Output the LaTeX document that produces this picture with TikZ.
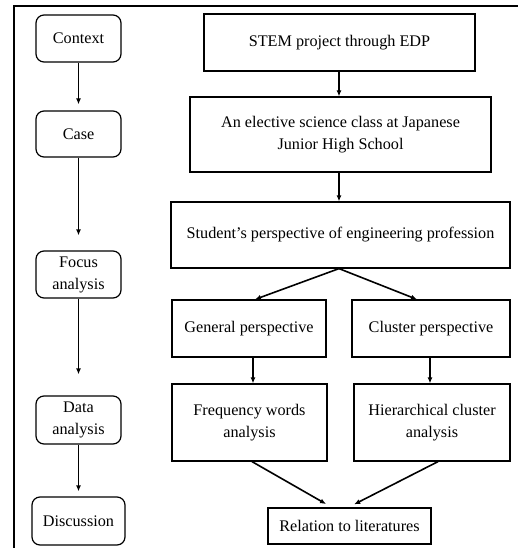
\documentclass[tikz,border=0pt]{standalone}
\usepackage{fontspec}
\setmainfont{Liberation Serif}
\usetikzlibrary{arrows.meta,calc}
\begin{document}
\begin{tikzpicture}[x=1pt,y=-1pt,
  every node/.style={font=\fontsize{16.2}{22}\selectfont, align=center, inner sep=0pt},
  stagebox/.style={draw, line width=1.2pt, rounded corners=8pt, minimum width=85pt, minimum height=47pt},
  flowbox/.style={draw, line width=1.2pt},
  arr/.style={line width=1.6pt, -{Latex[length=6pt,width=5pt]}}
]
\useasboundingbox (0,0) rectangle (518,548);
% frame
\draw[line width=2pt] (14,548) -- (14,6) -- (518,6);
% left column
\node[stagebox] (ctx) at (78.5,38.5) {Context};
\node[stagebox, minimum height=46pt] (case) at (78.5,134) {Case};
\node[stagebox] (focus) at (78.5,274.5) {Focus\\analysis};
\node[stagebox, minimum height=48pt] (data) at (78.5,420) {Data\\analysis};
\node[stagebox, minimum width=93pt, minimum height=48pt] (disc) at (78.5,521) {Discussion};
\draw[arr, shorten >=6pt] (ctx) -- (case);
\draw[arr, shorten >=15pt] (case) -- (focus);
\draw[arr, shorten >=21pt] (focus) -- (data);
\draw[arr, shorten >=5pt] (data) -- (disc);
% right column
\node[flowbox, minimum width=271pt, minimum height=57pt] (stem) at (339.5,42.5) {STEM project through EDP};
\node[flowbox, minimum width=301pt, minimum height=75pt] (elec) at (340.5,134.5) {An elective science class at Japanese\\Junior High School};
\node[flowbox, minimum width=339pt, minimum height=66pt] (stud) at (340.5,235) {Student’s perspective of engineering profession};
\node[flowbox, minimum width=154pt, minimum height=57pt] (gen) at (249,328.5) {General perspective};
\node[flowbox, minimum width=158pt, minimum height=57pt] (clu) at (431,328.5) {Cluster perspective};
\node[flowbox, minimum width=155pt, minimum height=77pt] (freq) at (249.5,422.5) {Frequency words\\analysis};
\node[flowbox, minimum width=156pt, minimum height=77pt] (hier) at (432,422.5) {Hierarchical cluster\\analysis};
\node[flowbox, minimum width=163pt, minimum height=36pt] (rel) at (349.5,526) {Relation to literatures};
\draw[arr] (stem.south -| 339,0) -- (elec.north -| 339,0);
\draw[arr] (elec.south -| 339,0) -- (stud.north -| 339,0);
\draw[arr] (stud.south -| 339,0) -- ($(gen.north)+(6,0)$);
\draw[arr] (stud.south -| 339,0) -- ($(clu.north)+(-14,0)$);
\draw[arr] (gen.south -| 253,0) -- (freq.north -| 253,0);
\draw[arr] (clu.south -| 430,0) -- (hier.north -| 430,0);
\draw[arr, shorten >=8pt] ($(freq.south)+(2.5,0)$) -- (333,508);
\draw[arr, shorten >=8pt] ($(hier.south)+(6,0)$) -- (347,508);
\end{tikzpicture}
\end{document}
